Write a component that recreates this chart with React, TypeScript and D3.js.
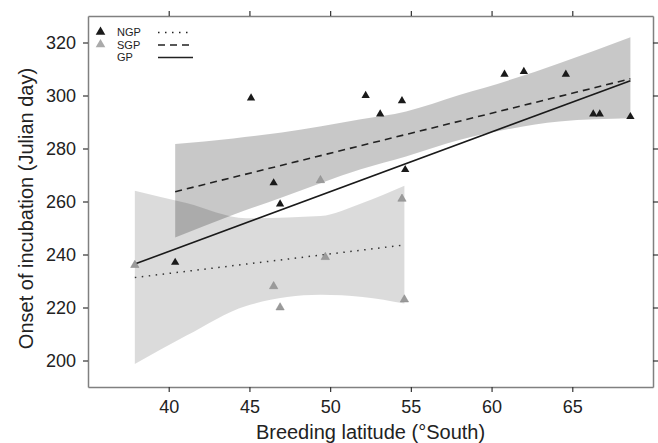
import React, { useEffect, useRef } from 'react';
import * as d3 from 'd3';

// black triangles
const northLat = [40.4, 45.1, 46.5, 46.9, 52.2, 53.1, 54.45, 54.65, 60.8, 62.0, 64.6, 66.3, 66.7, 68.6];
const northDay = [237, 299, 267, 259, 300, 293, 298, 272, 308, 309, 308, 293, 293, 292];
// grey triangles
const southLat = [37.9, 46.5, 46.9, 49.4, 49.7, 54.45, 54.6];
const southDay = [236, 228, 220, 268, 239, 261, 223];

// fitted lines (end points)
const dashedLat = [40.4, 68.6];
const dashedDay = [263.7, 306.3];
const solidLat = [37.9, 68.6];
const solidDay = [236.4, 305.6];
const dottedLat = [37.9, 54.6];
const dottedDay = [231.3, 243.6];

// confidence bands
const darkBandLat = [40.4, 44.0, 47.0, 51.9, 54.7, 58.0, 61.2, 64.2, 68.6];
const darkBandUpper = [281.7, 283.8, 286, 291, 294, 300.2, 306, 312.2, 322];
const darkBandLower = [246.4, 255, 261.5, 272.2, 277, 283.2, 287.5, 290.2, 291.4];
const lightBandLat = [37.9, 41.1, 44.8, 49.4, 52.0, 54.6];
const lightBandUpper = [264.1, 259.4, 253.7, 254.5, 259.4, 265.9];
const lightBandLower = [198.7, 209.4, 220.6, 224.8, 224.0, 221.5];

const xTicks = [40, 45, 50, 55, 60, 65];
const yTicks = [200, 220, 240, 260, 280, 300, 320];
const legendLabels = ['NGP', 'SGP', 'GP'];

const font = '"Liberation Sans", Arial, Helvetica, sans-serif';

function App() {
  const ref = useRef(null);

  useEffect(() => {
    const width = 658;
    const height = 443;
    const left = 88, right = 653, top = 16, bottom = 387;

    const svg = d3.select(ref.current).attr('width', width).attr('height', height);
    svg.selectAll('*').remove();

    const x = d3.scaleLinear().domain([35, 70]).range([left, right]);
    const y = d3.scaleLinear().domain([190, 330]).range([bottom, top]);

    const band = (lat, lo, hi) =>
      d3.area()
        .x((d, i) => x(lat[i]))
        .y0((d, i) => y(lo[i]))
        .y1((d, i) => y(hi[i]))
        .curve(d3.curveMonotoneX)(lat);

    svg.append('path')
      .attr('d', band(lightBandLat, lightBandLower, lightBandUpper))
      .attr('fill', '#000').attr('fill-opacity', 0.14);
    svg.append('path')
      .attr('d', band(darkBandLat, darkBandLower, darkBandUpper))
      .attr('fill', '#000').attr('fill-opacity', 0.215);

    const line = (lat, day) => d3.line().x((d, i) => x(lat[i])).y((d, i) => y(day[i]))(lat);

    svg.append('path').attr('d', line(dottedLat, dottedDay))
      .attr('stroke', '#333').attr('stroke-width', 1.5).attr('fill', 'none')
      .attr('stroke-dasharray', '1.5,5.5');
    svg.append('path').attr('d', line(dashedLat, dashedDay))
      .attr('stroke', '#222').attr('stroke-width', 1.6).attr('fill', 'none')
      .attr('stroke-dasharray', '7,5');
    svg.append('path').attr('d', line(solidLat, solidDay))
      .attr('stroke', '#1a1a1a').attr('stroke-width', 1.6).attr('fill', 'none');

    const tri = d3.symbol().type(d3.symbolTriangle).size(30);

    svg.append('g').selectAll('path')
      .data(southLat)
      .enter()
      .append('path')
      .attr('d', tri)
      .attr('transform', (d, i) => `translate(${x(d)},${y(southDay[i])})`)
      .attr('fill', '#9a9a9a')
      .attr('stroke', '#888').attr('stroke-width', 0.5);

    svg.append('g').selectAll('path')
      .data(northLat)
      .enter()
      .append('path')
      .attr('d', tri)
      .attr('transform', (d, i) => `translate(${x(d)},${y(northDay[i])})`)
      .attr('fill', '#1a1a1a');

    // frame with ticks on every side
    const styleAxis = g => {
      g.select('.domain').attr('stroke', '#808080').attr('stroke-width', 1.5);
      g.selectAll('.tick line').attr('stroke', '#333').attr('stroke-width', 1.2);
      g.selectAll('.tick text')
        .attr('fill', '#222')
        .style('font-family', font)
        .style('font-size', '18px');
    };

    svg.append('g')
      .attr('transform', `translate(0,${bottom})`)
      .call(d3.axisBottom(x).tickValues(xTicks).tickSize(5).tickSizeOuter(0).tickPadding(8))
      .call(styleAxis);
    svg.append('g')
      .attr('transform', `translate(0,${top})`)
      .call(d3.axisTop(x).tickValues(xTicks).tickSize(5).tickSizeOuter(0).tickFormat(() => ''))
      .call(styleAxis);
    svg.append('g')
      .attr('transform', `translate(${left},0)`)
      .call(d3.axisLeft(y).tickValues(yTicks).tickSize(5).tickSizeOuter(0).tickPadding(7))
      .call(styleAxis);
    svg.append('g')
      .attr('transform', `translate(${right},0)`)
      .call(d3.axisRight(y).tickValues(yTicks).tickSize(5).tickSizeOuter(0).tickFormat(() => ''))
      .call(styleAxis);

    svg.selectAll('.domain').attr('fill', 'none');

    // axis titles
    svg.append('text')
      .attr('x', (left + right) / 2)
      .attr('y', 439)
      .attr('text-anchor', 'middle')
      .attr('fill', '#222')
      .style('font-family', font)
      .style('font-size', '20px')
      .text('Breeding latitude (°South)');

    svg.append('text')
      .attr('transform', `translate(33,${(top + bottom) / 2 + 7}) rotate(-90)`)
      .attr('text-anchor', 'middle')
      .attr('fill', '#222')
      .style('font-family', font)
      .style('font-size', '20px')
      .text('Onset of incubation (Julian day)');

    // legend
    const legend = svg.append('g');
    const step = 12.5;
    const bigTri = d3.symbol().type(d3.symbolTriangle).size(40);
    legend.append('path').attr('d', bigTri).attr('transform', 'translate(100.5,32)').attr('fill', '#1a1a1a');
    legend.append('path').attr('d', bigTri).attr('transform', `translate(100.5,${32 + step})`).attr('fill', '#aaa');

    legend.selectAll('text')
      .data(legendLabels)
      .enter()
      .append('text')
      .attr('x', 117)
      .attr('y', (d, i) => 36 + i * step)
      .attr('fill', '#222')
      .style('font-family', font)
      .style('font-size', '11px')
      .text(d => d);

    const dashes = ['1.5,5.5', '7,5', null];
    legendLabels.forEach((d, i) => {
      legend.append('line')
        .attr('x1', 158).attr('x2', 193)
        .attr('y1', 32.5 + i * step).attr('y2', 32.5 + i * step)
        .attr('stroke', '#222').attr('stroke-width', 1.5)
        .attr('stroke-dasharray', dashes[i]);
    });
  }, []);

  return (
    <svg ref={ref} style={{ position: 'absolute', left: 0, top: 0 }}></svg>
  );
}

export default App;
